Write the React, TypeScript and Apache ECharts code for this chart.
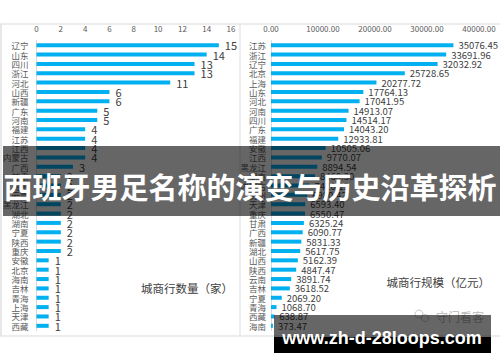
import React, { useEffect, useRef } from "react";
import * as echarts from "echarts";

const countProvinces = ["辽宁","山东","四川","浙江","河北","山西","新疆","广东","河南","福建","江苏","江西","内蒙古","广西","甘肃","贵州","云南","黑龙江","湖北","湖南","宁夏","陕西","重庆","安徽","北京","海南","吉林","青海","上海","天津","西藏"];
const counts = [15,14,13,13,11,6,6,5,5,4,4,4,4,3,2,2,2,2,2,2,2,2,2,1,1,1,1,1,1,1,1];

const scaleProvinces = ["江苏","浙江","辽宁","北京","上海","山东","河北","河南","四川","广东","福建","安徽","江西","黑龙江","湖南","内蒙古","贵州","天津","重庆","甘肃","广西","新疆","湖北","山西","陕西","云南","吉林","宁夏","青海","西藏","海南"];
const scales = [35076.45,33691.96,32032.92,25728.65,20277.72,17764.13,17041.95,14913.07,14514.17,14043.20,12933.81,10505.06,9770.07,8894.54,8460.30,7420.15,6980.42,6593.40,6550.47,6325.24,6090.77,5831.33,5617.75,5162.39,4847.47,3891.74,3618.52,2069.20,1068.70,638.87,373.47];

const titleText = "西班牙男足名称的演变与历史沿革探析";
const leftCaption = "城商行数量（家）";
const rightCaption = "城商行规模（亿元）";
const siteText = "www.zh-d-28loops.com";
const markText = "守门看客";

const FONT = "'Noto Sans CJK SC', 'Noto Sans', sans-serif";
const BLUE = "#00b0f0";

export default function App() {
  const ref = useRef<HTMLDivElement>(null);
  useEffect(() => {
    if (!ref.current) return;
    const chart = echarts.init(ref.current, null, { renderer: "svg" });
    const axisLabel = { color: "#595959", fontSize: 8, fontFamily: FONT };
    chart.setOption({
      animation: false,
      backgroundColor: "#ffffff",
      grid: [
        { left: 36, width: 195, top: 40.5, height: 290 },
        { left: 271, width: 208, top: 40.5, height: 290 },
      ],
      xAxis: [
        {
          gridIndex: 0, type: "value", position: "top", min: 0, max: 16, interval: 2,
          axisLine: { show: false }, axisTick: { show: false }, splitLine: { show: false },
          axisLabel: { ...axisLabel, margin: 8 },
        },
        {
          gridIndex: 1, type: "value", position: "top", min: 0, max: 40000, interval: 10000,
          axisLine: { show: false }, axisTick: { show: false }, splitLine: { show: false },
          axisLabel: { ...axisLabel, margin: 8, formatter: (v: number) => v.toFixed(2) },
        },
      ],
      yAxis: [
        {
          gridIndex: 0, type: "category", data: countProvinces, inverse: true,
          axisLine: { show: true, lineStyle: { color: "#d9d9d9" } }, axisTick: { show: false },
          axisLabel: { ...axisLabel, fontSize: 8.5, margin: 8, interval: 0 },
        },
        {
          gridIndex: 1, type: "category", data: scaleProvinces, inverse: true,
          axisLine: { show: true, lineStyle: { color: "#d9d9d9" } }, axisTick: { show: false },
          axisLabel: { ...axisLabel, fontSize: 8.5, margin: 5, interval: 0 },
        },
      ],
      series: [
        {
          type: "bar", xAxisIndex: 0, yAxisIndex: 0, data: counts, barWidth: 4,
          itemStyle: { color: BLUE },
          label: { show: true, position: "right", distance: 6, color: "#404040", fontSize: 11, fontFamily: FONT },
        },
        {
          type: "bar", xAxisIndex: 1, yAxisIndex: 1, data: scales, barWidth: 4,
          itemStyle: { color: BLUE },
          label: {
            show: true, position: "right", distance: 5, color: "#404040", fontSize: 9.5, fontFamily: FONT,
            formatter: (p: any) => Number(p.value).toFixed(2),
          },
        },
      ],
      graphic: [
        { type: "rect", z: 1, shape: { x: 1, y: 24, width: 520, height: 312 }, style: { fill: "none", stroke: "#d9d9d9", lineWidth: 1.2 } },
        { type: "line", z: 1, shape: { x1: 240, y1: 24, x2: 240, y2: 336 }, style: { stroke: "#e3e3e3", lineWidth: 1.2 } },
        { type: "text", z: 5, style: { x: 233, y: 288, text: leftCaption, align: "right", verticalAlign: "middle", fill: "#404040", fontSize: 11.5, fontFamily: FONT } },
        { type: "text", z: 5, style: { x: 490, y: 282, text: rightCaption, align: "right", verticalAlign: "middle", fill: "#404040", fontSize: 11.5, fontFamily: FONT } },
        { type: "circle", z: 5, shape: { cx: 419, cy: 314, r: 4 }, style: { fill: "none", stroke: "#c8c8c8", lineWidth: 1 } },
        { type: "circle", z: 5, shape: { cx: 425, cy: 318, r: 3.5 }, style: { fill: "none", stroke: "#c8c8c8", lineWidth: 1 } },
        { type: "text", z: 5, style: { x: 436, y: 316, text: markText, align: "left", verticalAlign: "middle", fill: "#b8b8b8", fontSize: 12, fontFamily: FONT } },
        { type: "rect", z: 100, shape: { x: 3, y: 146, width: 497, height: 70 }, style: { fill: "rgba(0,0,0,0.6)" } },
        { type: "text", z: 101, style: { x: 250, y: 186, text: titleText, align: "center", verticalAlign: "middle", fill: "#ffffff", fontSize: 29, fontWeight: "bold", fontFamily: FONT } },
        { type: "rect", z: 100, shape: { x: 274, y: 315, width: 217, height: 22 }, style: { fill: "rgba(0,0,0,0.6)" } },
        { type: "rect", z: 100, shape: { x: 274, y: 337, width: 217, height: 16 }, style: { fill: "#000000" } },
        { type: "text", z: 101, style: { x: 382, y: 338, text: siteText, align: "center", verticalAlign: "middle", fill: "#ffffff", fontSize: 18, fontWeight: "bold", fontFamily: "'Liberation Sans', 'DejaVu Sans', sans-serif" } },
      ],
    });
    return () => chart.dispose();
  }, []);
  return <div ref={ref} style={{ position: "fixed", left: 0, top: 0, width: 500, height: 362 }} />;
}
